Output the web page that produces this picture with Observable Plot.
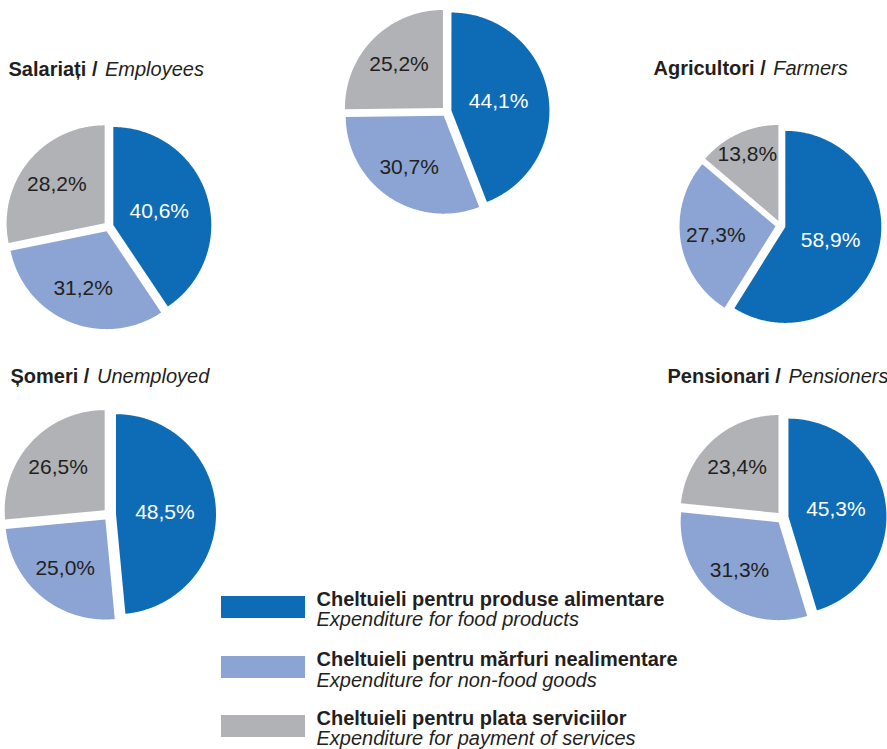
<!DOCTYPE html>
<html>
<head>
<meta charset="utf-8">
<script src="https://cdn.jsdelivr.net/npm/d3@7"></script>
<script src="https://cdn.jsdelivr.net/npm/@observablehq/plot@0.6"></script>
<style>
  html, body { margin: 0; padding: 0; background: #ffffff; }
  #chart svg { display: block; }
</style>
</head>
<body>
<div id="chart"></div>
<script>
// ---- Data ----
const groupKeys = ["total", "salariati", "agricultori", "someri", "pensionari"];
const titlesRo = ["", "Salariați /", "Agricultori /", "Șomeri /", "Pensionari /"];
const titlesEn = ["", "Employees", "Farmers", "Unemployed", "Pensioners"];
const categoryKeys = ["food", "nonfood", "services"];
const categoriesRo = ["Cheltuieli pentru produse alimentare", "Cheltuieli pentru mărfuri nealimentare", "Cheltuieli pentru plata serviciilor"];
const categoriesEn = ["Expenditure for food products", "Expenditure for non-food goods", "Expenditure for payment of services"];
const food     = [44.1, 40.6, 58.9, 48.5, 45.3];
const nonfood  = [30.7, 31.2, 27.3, 25.0, 31.3];
const services = [25.2, 28.2, 13.8, 26.5, 23.4];

// ---- Layout & style ----
const W = 887, H = 749;
const colors = ["#0e6cb6", "#8ba4d4", "#b0b2b5"];
const textDark = "#231f20";
const font = "'Liberation Sans', Arial, Helvetica, sans-serif";
const layout = {
  total:       {cx: 446, cy: 111, r: 98, e: 5},
  salariati:   {cx: 108, cy: 226, r: 98, e: 5},
  agricultori: {cx: 780, cy: 225, r: 96, e: 5},
  someri:      {cx: 109, cy: 514, r: 100, e: 6.5},
  pensionari:  {cx: 782, cy: 517, r: 98, e: 6}
};
const titlePos = {
  salariati:   {x: 8,   y: 75},
  agricultori: {x: 653, y: 74},
  someri:      {x: 10,  y: 382},
  pensionari:  {x: 667, y: 382}
};
const legendBold = [605, 665, 724];
const legendItal = [625, 686, 744];

// ---- Build geometry from data ----
const series = [food, nonfood, services];
const slicePts = [];
const labels = [];
groupKeys.forEach((g, i) => {
  const L = layout[g];
  const vals = series.map(s => s[i]);
  const arcs = d3.pie().sort(null)(vals);
  arcs.forEach((a, j) => {
    const mid = (a.startAngle + a.endAngle) / 2;
    const ox = L.cx + L.e * Math.sin(mid);
    const oy = L.cy - L.e * Math.cos(mid);
    const id = g + "-" + j;
    slicePts.push({id, cat: categoryKeys[j], x: ox, y: oy});
    const n = Math.max(2, Math.ceil((a.endAngle - a.startAngle) / 0.01));
    for (let k = 0; k <= n; k++) {
      const t = a.startAngle + (a.endAngle - a.startAngle) * k / n;
      slicePts.push({id, cat: categoryKeys[j], x: ox + L.r * Math.sin(t), y: oy - L.r * Math.cos(t)});
    }
    const f = j === 0 ? 0.49 : (vals[j] < 15 ? 0.77 : 0.63);
    labels.push({
      x: ox + f * L.r * Math.sin(mid),
      y: oy - f * L.r * Math.cos(mid),
      text: vals[j].toFixed(1).replace(".", ",") + "%",
      cat: j
    });
  });
});

// text measuring for mixed bold/italic titles
const ctx = document.createElement("canvas").getContext("2d");
function measure(str, weight, style, size) {
  ctx.font = `${style} ${weight} ${size}px ${font}`;
  return ctx.measureText(str).width;
}
const titleSize = 20;
const titles = groupKeys.map((g, i) => ({g, ro: titlesRo[i], en: titlesEn[i]})).filter(d => d.ro);
const titleBold = titles.map(d => ({x: titlePos[d.g].x, y: titlePos[d.g].y, text: d.ro}));
const titleItal = titles.map(d => ({
  x: titlePos[d.g].x + measure(d.ro + " ", "bold", "normal", titleSize) + 2,
  y: titlePos[d.g].y, text: d.en
}));

const legend = categoryKeys.map((c, i) => ({cat: c, ro: categoriesRo[i], en: categoriesEn[i], b: legendBold[i], it: legendItal[i]}));

const chart = Plot.plot({
  width: W, height: H, margin: 0,
  x: {domain: [0, W], range: [0, W], axis: null},
  y: {domain: [0, H], range: [0, H], axis: null},
  color: {domain: categoryKeys, range: colors},
  style: {fontFamily: font, background: "#ffffff", overflow: "visible"},
  marks: [
    Plot.line(slicePts, {x: "x", y: "y", z: "id", fill: "cat", stroke: null, curve: "linear-closed"}),
    Plot.text(labels.filter(d => d.cat === 0), {x: "x", y: "y", text: "text", fill: "#ffffff", fontSize: 21}),
    Plot.text(labels.filter(d => d.cat !== 0), {x: "x", y: "y", text: "text", fill: textDark, fontSize: 21}),
    Plot.text(titleBold, {x: "x", y: "y", text: "text", textAnchor: "start", lineAnchor: "bottom", fontWeight: "bold", fontSize: titleSize, fill: textDark}),
    Plot.text(titleItal, {x: "x", y: "y", text: "text", textAnchor: "start", lineAnchor: "bottom", fontStyle: "italic", fontSize: titleSize, fill: textDark}),
    Plot.rect(legend, {x1: 221, x2: 305, y1: d => d.b - 9, y2: d => d.b + 13, fill: "cat"}),
    Plot.text(legend, {x: 316, y: "b", text: "ro", textAnchor: "start", lineAnchor: "bottom", fontWeight: "bold", fontSize: 20, fill: textDark}),
    Plot.text(legend, {x: 316, y: "it", text: "en", textAnchor: "start", lineAnchor: "bottom", fontStyle: "italic", fontSize: 20, fill: textDark})
  ]
});
document.getElementById("chart").appendChild(chart);
</script>
</body>
</html>
